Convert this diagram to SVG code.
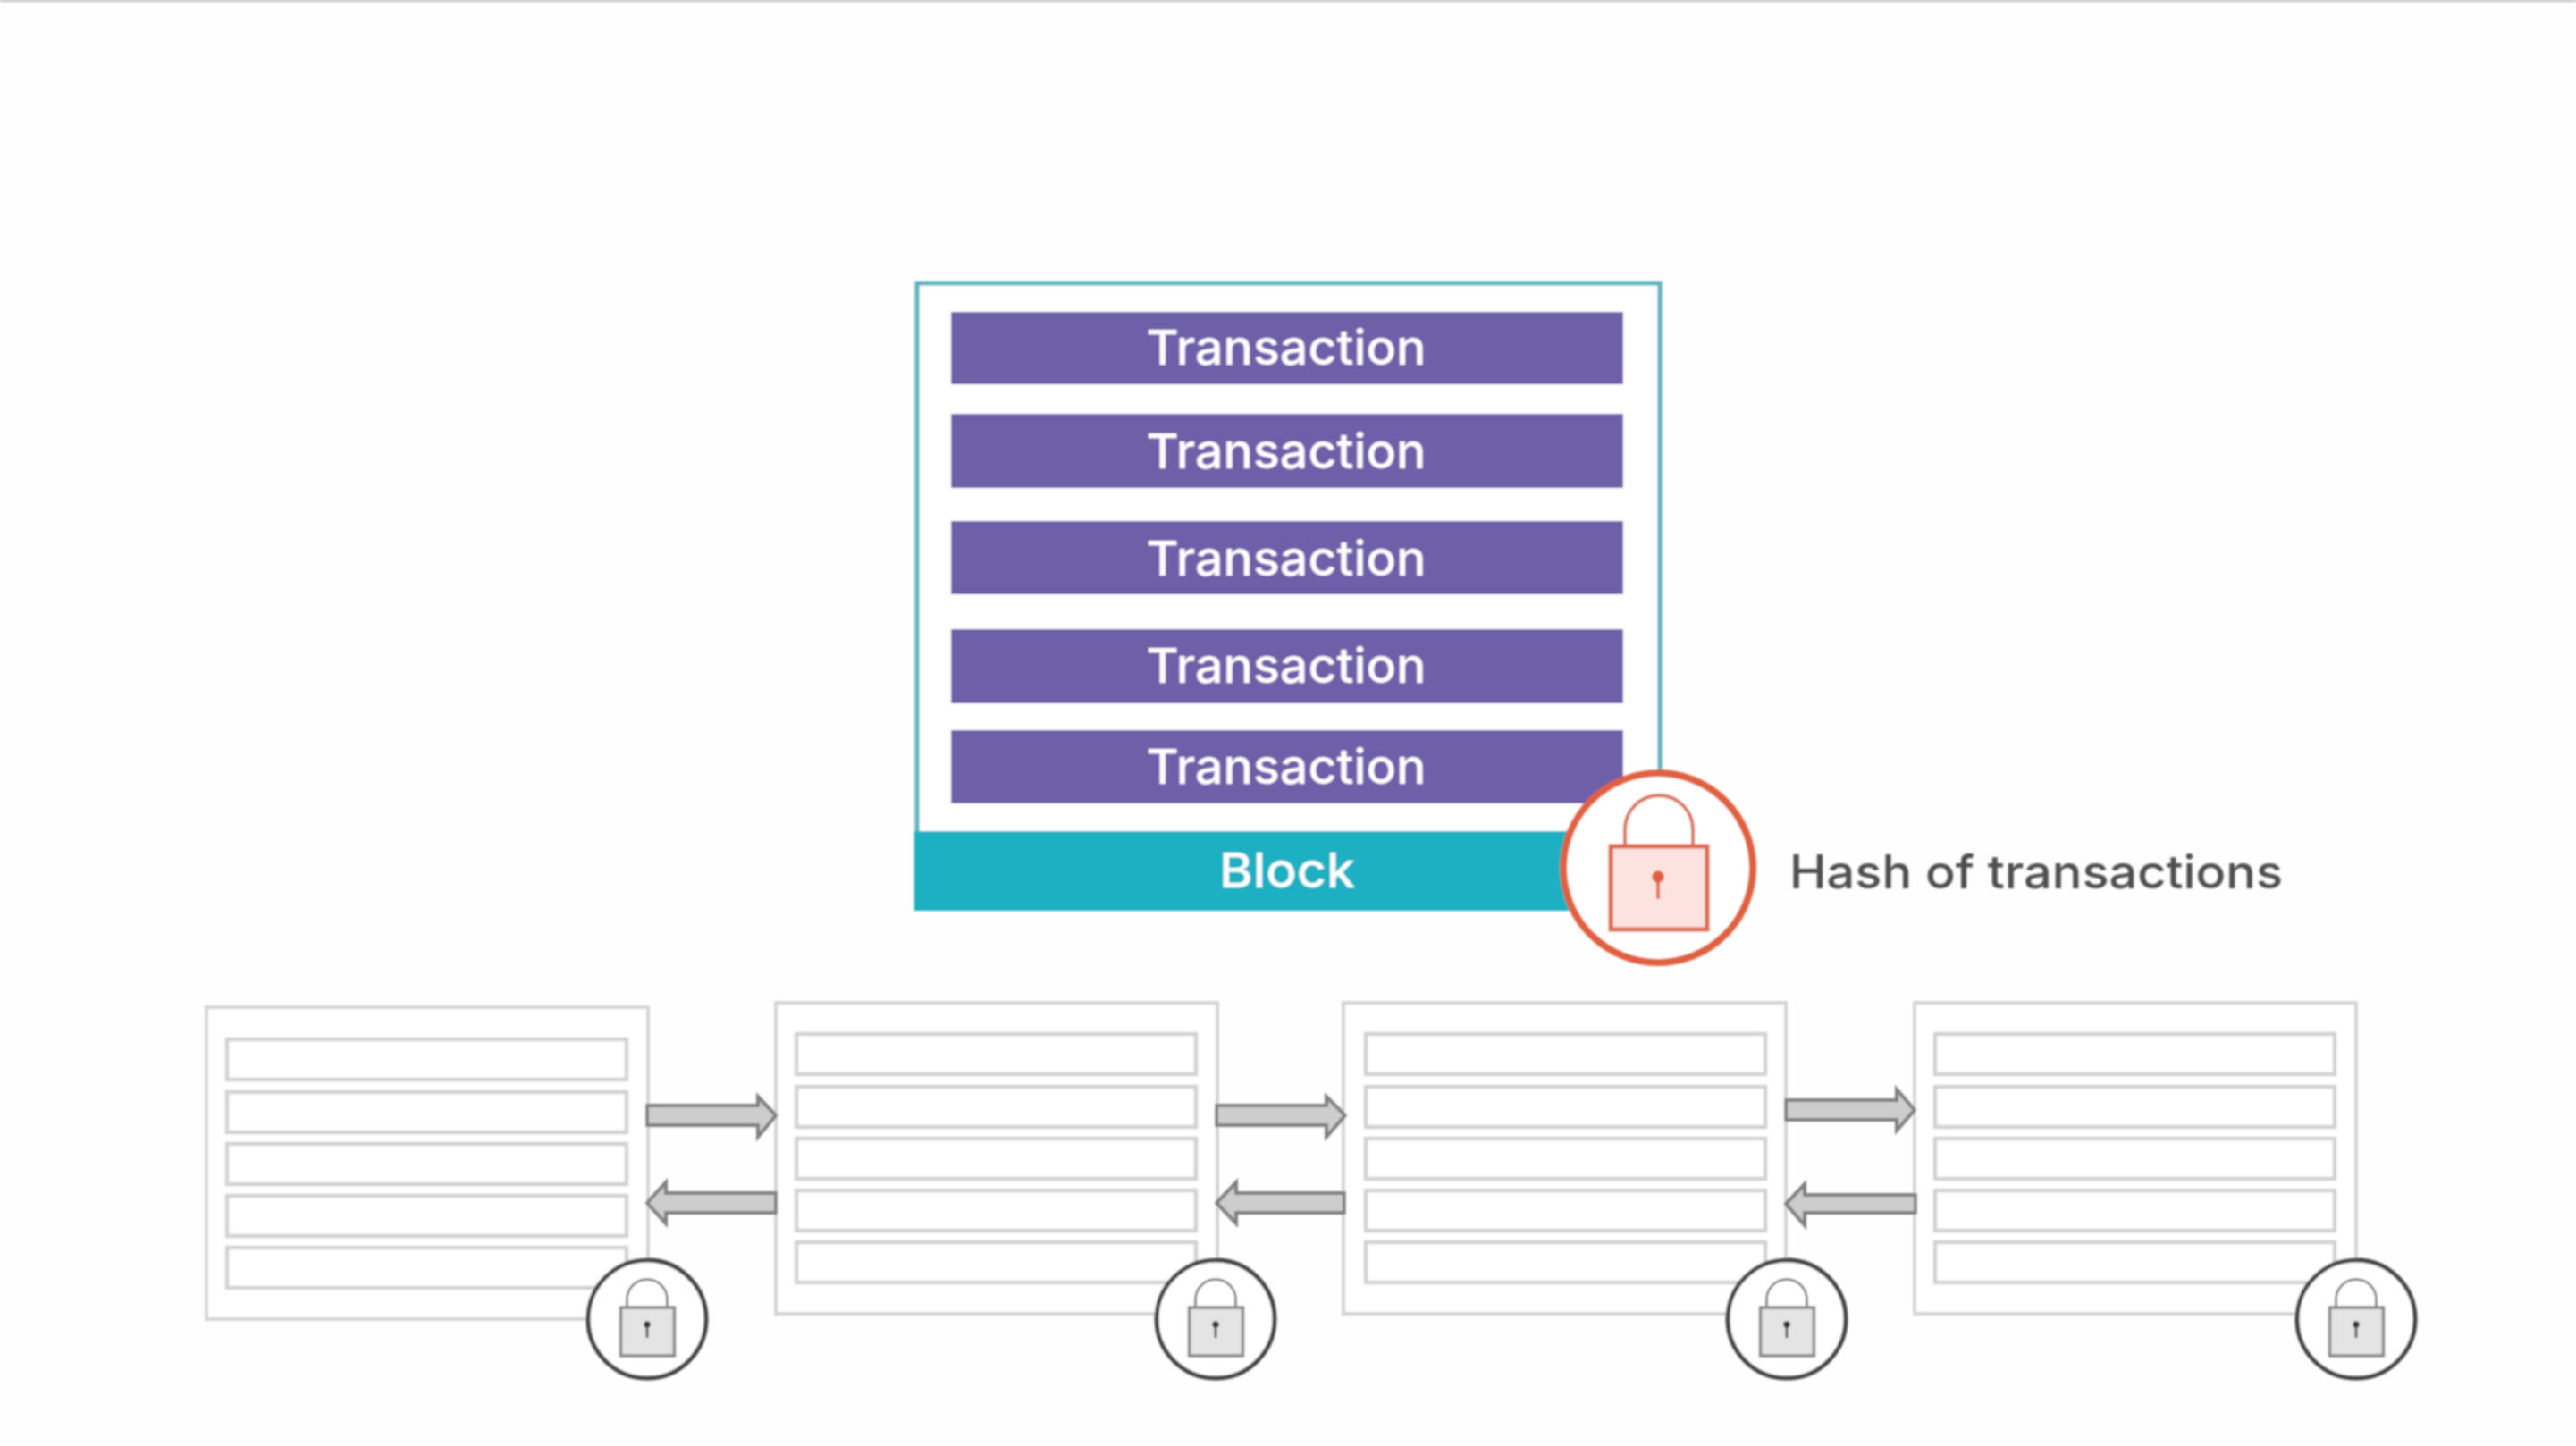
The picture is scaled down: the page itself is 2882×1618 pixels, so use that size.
<svg xmlns="http://www.w3.org/2000/svg" xmlns:xlink="http://www.w3.org/1999/xlink" width="2882" height="1618" viewBox="0 0 2882 1618">
<style>
.bg{fill:#fefefe}
.frame{fill:#fff;stroke:#5db4bd;stroke-width:5}
.tx{fill:#6e5fa9}
.bar{fill:#1cb0c2}
.lbl{font-family:"Inter","Liberation Sans",sans-serif;font-weight:500;font-size:54px;text-anchor:middle;fill:#fff}
.hash{font-family:"Inter","Liberation Sans",sans-serif;font-weight:500;font-size:52px;fill:#505050}
.gframe{fill:#fff;stroke:#d4d4d4;stroke-width:4}
.grow{fill:#fff;stroke:#d2d2d2;stroke-width:4.5}
.arrow{fill:#cdcdcd;stroke:#808080;stroke-width:4}
.ring{fill:#fff;stroke:#444;stroke-width:5}
.body{fill:#e4e4e4;stroke:#888;stroke-width:3.5}
.sh{fill:none;stroke:#6e6e6e;stroke-width:2.5}
.key{stroke:#333;stroke-width:2.5;fill:#333}
.rring{fill:#fff;stroke:#e0603f;stroke-width:8}
.rbody{fill:#fde3e0;stroke:#dd6a4e;stroke-width:5}
.rsh{fill:none;stroke:#d9735a;stroke-width:4}
.rkey{stroke:#e0603f;stroke-width:3.5;fill:#e0603f}
</style>
<defs>
<filter id="soft" x="-2%" y="-2%" width="104%" height="104%"><feGaussianBlur stdDeviation="0.9"/></filter>
<g id="lock">
<circle class="ring" r="66"/>
<path class="sh" d="M-22.5 -13V-22A22.500 22.500 0 0 1 22.500 -22V-13"/>
<rect class="body" x="-29.500" y="-13" width="60" height="54"/>
<circle class="key" cx="0" cy="6" r="2.500"/><line class="key" x1="0" y1="6" x2="0" y2="21"/>
</g>
<g id="rows">
<rect class="grow" x="0" y="0" width="447" height="45"/>
<rect class="grow" x="0" y="59" width="447" height="45"/>
<rect class="grow" x="0" y="117" width="447" height="45"/>
<rect class="grow" x="0" y="175" width="447" height="45"/>
<rect class="grow" x="0" y="233" width="447" height="45"/>
</g>
</defs>
<rect class="bg" width="2882" height="1618"/>
<g filter="url(#soft)">
<rect x="0" y="0" width="2882" height="2" fill="#b8b8b8"/>
<g id="main-block">
<rect class="frame" x="1026" y="317" width="831" height="660"/>
<rect class="bar" x="1023" y="930" width="836" height="89"/>
<text class="lbl" x="1440" y="993" textLength="152" lengthAdjust="spacingAndGlyphs">Block</text>
</g>
<g id="tx1"><rect class="tx" x="1064" y="349" width="752" height="81"/><text class="lbl" x="1439" y="408" textLength="313" lengthAdjust="spacingAndGlyphs">Transaction</text></g>
<g id="tx2"><rect class="tx" x="1064" y="463" width="752" height="83"/><text class="lbl" x="1439" y="524" textLength="313" lengthAdjust="spacingAndGlyphs">Transaction</text></g>
<g id="tx3"><rect class="tx" x="1064" y="583" width="752" height="82"/><text class="lbl" x="1439" y="644" textLength="313" lengthAdjust="spacingAndGlyphs">Transaction</text></g>
<g id="tx4"><rect class="tx" x="1064" y="704" width="752" height="83"/><text class="lbl" x="1439" y="764" textLength="313" lengthAdjust="spacingAndGlyphs">Transaction</text></g>
<g id="tx5"><rect class="tx" x="1064" y="817" width="752" height="82"/><text class="lbl" x="1439" y="877" textLength="313" lengthAdjust="spacingAndGlyphs">Transaction</text></g>
<g id="hash-lock">
<circle class="rring" cx="1855" cy="971" r="106"/>
<path class="rsh" d="M1818 945V928A38 38 0 0 1 1894 928V945"/>
<rect class="rbody" x="1802" y="947" width="108" height="93"/>
<circle class="rkey" cx="1855" cy="981" r="5"/><line class="rkey" x1="1855" y1="981" x2="1855" y2="1006"/>
</g>
<text id="hash-label" class="hash" x="2002" y="994" textLength="552" lengthAdjust="spacingAndGlyphs">Hash of transactions</text>
<g id="chain-1"><rect class="gframe" x="231" y="1127" width="494" height="349"/><use xlink:href="#rows" href="#rows" x="254" y="1163"/></g>
<g id="chain-2"><rect class="gframe" x="868" y="1122" width="494" height="348"/><use xlink:href="#rows" href="#rows" x="891" y="1157"/></g>
<g id="chain-3"><rect class="gframe" x="1503" y="1122" width="495" height="348"/><use xlink:href="#rows" href="#rows" x="1528" y="1157"/></g>
<g id="chain-4"><rect class="gframe" x="2142" y="1122" width="494" height="348"/><use xlink:href="#rows" href="#rows" x="2165" y="1157"/></g>
<g id="connectors">
<path class="arrow" d="M724 1237H848V1227L868 1248L848 1272V1259H724Z"/>
<path class="arrow" d="M868 1335H745V1323L724 1346L745 1369V1357H868Z"/>
<path class="arrow" d="M1361 1237H1484V1227L1505 1248L1484 1272V1259H1361Z"/>
<path class="arrow" d="M1504 1335H1383V1323L1361 1346L1383 1369V1357H1504Z"/>
<path class="arrow" d="M1998 1231H2122V1219L2142 1242L2122 1265V1253H1998Z"/>
<path class="arrow" d="M2143 1337H2019V1325L1998 1347L2019 1371V1357H2143Z"/>
</g>
<g id="lock-1"><use xlink:href="#lock" href="#lock" x="724" y="1476"/></g>
<g id="lock-2"><use xlink:href="#lock" href="#lock" x="1360" y="1476"/></g>
<g id="lock-3"><use xlink:href="#lock" href="#lock" x="1999" y="1476"/></g>
<g id="lock-4"><use xlink:href="#lock" href="#lock" x="2636" y="1476"/></g>
</g>
</svg>
